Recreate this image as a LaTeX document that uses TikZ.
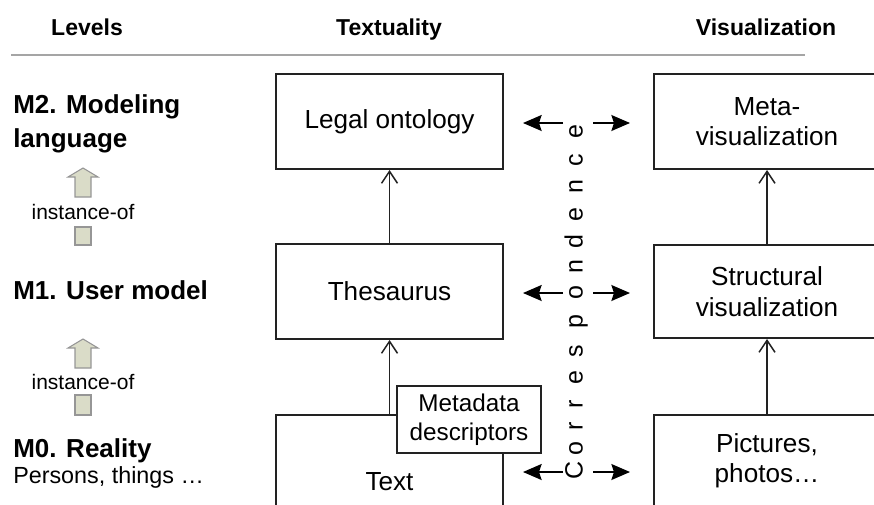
\documentclass[tikz,border=0pt]{standalone}
\usepackage{fontspec}
\setmainfont{Liberation Sans}
\usetikzlibrary{arrows.meta}
\definecolor{boxline}{RGB}{34,34,34}
\definecolor{rulegray}{RGB}{165,165,165}
\definecolor{blockfill}{RGB}{218,220,200}
\definecolor{blockline}{RGB}{150,150,150}
\newcommand{\pxu}{0.75pt}
\tikzset{
  box/.style={draw=boxline, line width=1.5pt, fill=white, inner sep=0pt,
    align=center, font=\fontsize{19.6}{22.8}\selectfont},
  upconn/.style={draw=boxline, line width=1.1pt,
    -{Straight Barb[length=9pt,width=12pt]}},
  corr/.style={draw=black, line width=1.1pt,
    -{Stealth[length=14pt,width=12pt,inset=2pt]}},
  hdr/.style={anchor=base, inner sep=0pt, font=\bfseries\fontsize{17.25}{20}\selectfont},
  lvl/.style={inner sep=0pt, align=left, font=\bfseries\fontsize{19.5}{25.5}\selectfont},
  inst/.style={inner sep=0pt, font=\fontsize{15.75}{18}\selectfont},
  blockarrow/.style={fill=blockfill, draw=blockline, line width=0.8pt, line join=miter},
  letter/.style={rotate=90, inner sep=0pt, text height=1ex, text depth=0pt,
    font=\fontsize{18.75}{20}\selectfont}
}
\begin{document}
\begin{tikzpicture}[x=0.75pt, y=-0.75pt]
\useasboundingbox (0,0) rectangle (874,504);

% column headings and rule
\node[hdr] (hlevels) at (87,35) {Levels};
\node[hdr] (htext) at (389,35) {Textuality};
\node[hdr] (hvis) at (766,35) {Visualization};
\draw[rulegray, line width=1.5pt] (11,55) -- (805,55);

% level labels
\node[lvl, anchor=north west] (m2) at (13,94.5) {M2. Modeling\\language};
\node[lvl, anchor=base west] (m1) at (13,299) {M1. User model};
\node[lvl, anchor=base west] (m0) at (13,457) {M0. Reality};
\node[anchor=base west, inner sep=0pt, font=\fontsize{17.5}{20}\selectfont] (m0sub) at (13,483) {Persons, things …};

% instance-of block arrows
\node[inst] (inst2) at (83,212) {instance-of};
\draw[blockarrow] (75,197) -- (75,177) -- (68,177) -- (83,168) -- (98,177) -- (91,177) -- (91,197) -- cycle;
\draw[blockarrow] (75,227) rectangle (91,245);
\node[inst] (inst1) at (83,382) {instance-of};
\draw[blockarrow] (75,368) -- (75,348) -- (68,348) -- (83,339) -- (98,348) -- (91,348) -- (91,368) -- cycle;
\draw[blockarrow] (75,395) rectangle (91,415);

% textuality column
\node[box, minimum width={227*\pxu}, minimum height={95*\pxu}] (legal) at (389.5,121.5) {Legal ontology};
\node[box, minimum width={227*\pxu}, minimum height={95*\pxu}] (thes) at (389.5,291.5) {Thesaurus};
\node[box, minimum width={227*\pxu}, minimum height={134*\pxu}] (text) at (389.5,482) {Text};
\node[box, minimum width={144*\pxu}, minimum height={67*\pxu},
  font=\fontsize{18.2}{21.75}\selectfont] (descr) at (469,419.5) {Metadata\\descriptors};

% visualization column
\node[box, minimum width={226*\pxu}, minimum height={95*\pxu}] (meta) at (767,121.5) {Meta-\\visualization};
\node[box, minimum width={226*\pxu}, minimum height={93*\pxu}] (struct) at (767,291.5) {Structural\\visualization};
\node[box, minimum width={226*\pxu}, minimum height={92*\pxu}] (pics) at (767,461) {Pictures,\\photos…};

% instance links inside the columns
\draw[upconn] (thes.north) -- (legal.south);
\draw[upconn] (text.north) -- (thes.south);
\draw[upconn] (struct.north) -- (meta.south);
\draw[upconn] (pics.north) -- (struct.south);

% vertical "Correspondence" lettering
\foreach \ch/\yy [count=\i] in {C/470, o/449, r/426, r/404, e/378, s/351, p/322,
    o/293, n/267, d/242, e/215, n/187, c/160, e/132}
  \node[letter] (ltr\i) at (579,\yy) {\ch};

% correspondence arrows
\foreach \yy/\k in {123/2, 293/1, 472/0} {
  \coordinate (cl\k) at (563,\yy);
  \coordinate (clt\k) at (523,\yy);
  \coordinate (cr\k) at (593,\yy);
  \coordinate (crt\k) at (630,\yy);
  \draw[corr] (cl\k) -- (clt\k);
  \draw[corr] (cr\k) -- (crt\k);
}
\end{tikzpicture}
\end{document}
